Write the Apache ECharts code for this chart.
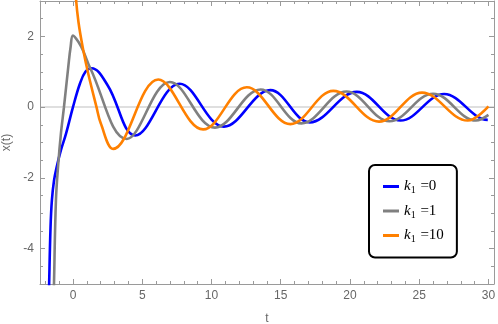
<!DOCTYPE html>
<html>
<head>
<meta charset="utf-8">
<script src="https://cdn.jsdelivr.net/npm/echarts@6/dist/echarts.min.js"></script>
<style>
html,body{margin:0;padding:0;background:#fff;}
#chart{width:498px;height:324px;}
</style>
</head>
<body>
<div id="chart"></div>
<script>
// t ticks / x(t) ticks
var xMajor = [0, 5, 10, 15, 20, 25, 30];
var xMinor = [-2, -1, 1, 2, 3, 4, 6, 7, 8, 9, 11, 12, 13, 14, 16, 17, 18, 19, 21, 22, 23, 24, 26, 27, 28, 29];
var yMajor = [-4, -2, 0, 2];
var yMinor = [-4.5, -3.5, -3, -2.5, -1.5, -1, -0.5, 0.5, 1, 1.5, 2.5];

var seriesNames = ['k1=0', 'k1=1', 'k1=10'];
var seriesColors = ['#0000ff', '#808080', '#ff8000'];

// k1 = 0 : start of the curve, then its peaks and troughs
var curveK0 = [
	[-1.8, -6.5], [-1.72, -5], [-1.62, -3.4], [-1.52, -2.62], [-1.37, -2.08], [-1.18, -1.7],
	[-0.88, -1.23], [-0.5, -0.75], [0, 0], [0.5, 0.66], [0.9, 1.0], [1.35, 1.1],
	[2.5, 0.62], [4.5, -0.8], [7.7, 0.66], [10.9, -0.55], [14.25, 0.48],
	[17.1, -0.43], [20.5, 0.43], [23.65, -0.38], [26.8, 0.37], [29.95, -0.36], [30, -0.36]
];
// k1 = 1
var curveK1 = [
	[-1.45, -6.5], [-1.37, -5], [-1.23, -2.64], [-1.06, -1.6], [-0.87, -0.75], [-0.65, 0],
	[-0.34, 1.13], [-0.17, 1.7], [0, 2.02], [0.4, 1.84], [0.75, 1.58], [1.25, 1.1],
	[3.88, -0.9], [7.0, 0.71], [10.25, -0.58], [13.55, 0.5], [16.5, -0.46],
	[19.75, 0.44], [22.85, -0.4], [26.0, 0.38], [29.1, -0.38], [30, -0.22]
];
// k1 = 10
var curveK10 = [
	[0.08, 5], [0.2, 3.2], [0.4, 2.4], [0.75, 1.6], [1.1, 0.95], [1.7, 0], [2.0, -0.45],
	[2.9, -1.18], [6.16, 0.78], [9.4, -0.63], [12.55, 0.56], [15.7, -0.48], [18.8, 0.46],
	[22.1, -0.41], [25.2, 0.41], [28.5, -0.38], [30, 0.02]
];

var tMin = -2.38, tMax = 30.4;
var yMin = -5, yMax = 3;
var frameColor = '#9a9a9a';
var labelColor = '#666';

function tickAxis(kind, pos, ticks, len, withLine, labels) {
	var ax = {
		type: 'value',
		position: pos,
		min: kind == 'x' ? tMin : yMin,
		max: kind == 'x' ? tMax : yMax,
		axisLine: { show: withLine, onZero: false, lineStyle: { color: frameColor, width: 1 } },
		axisTick: { show: true, inside: true, length: len, customValues: ticks, lineStyle: { color: frameColor } },
		axisLabel: { show: false },
		splitLine: { show: false }
	};
	if (labels) {
		ax.axisLabel = {
			show: true,
			customValues: labels,
			color: labelColor,
			fontSize: 12,
			fontFamily: 'Liberation Sans',
			margin: 6
		};
	}
	return ax;
}

var xAxes = [
	tickAxis('x', 'bottom', xMajor, 5, true, xMajor),
	tickAxis('x', 'bottom', xMinor, 3, false),
	tickAxis('x', 'top', xMajor, 5, true),
	tickAxis('x', 'top', xMinor, 3, false)
];
xAxes[0].name = 't';
xAxes[0].nameLocation = 'middle';
xAxes[0].nameGap = 29;
xAxes[0].nameMoveOverlap = false;
xAxes[0].nameTextStyle = { color: labelColor, fontSize: 12, fontFamily: 'Liberation Sans' };

var yAxes = [
	tickAxis('y', 'left', yMajor, 5, true, yMajor),
	tickAxis('y', 'left', yMinor, 3, false),
	tickAxis('y', 'right', yMajor, 5, true),
	tickAxis('y', 'right', yMinor, 3, false),
	{
		// only the line at x(t)=0
		type: 'value', position: 'left', min: yMin, max: yMax,
		axisLine: { show: false }, axisLabel: { show: false },
		axisTick: { show: false, customValues: [0] },
		splitLine: { show: true, lineStyle: { color: '#d4d4d4', width: 1.5 } }
	}
];
yAxes[0].name = 'x(t)';
yAxes[0].nameLocation = 'middle';
yAxes[0].nameGap = 27;
yAxes[0].nameMoveOverlap = false;
yAxes[0].nameTextStyle = { color: labelColor, fontSize: 12, fontFamily: 'Liberation Sans' };

var curves = [curveK0, curveK1, curveK10];
var series = [];
for (var i = 0; i < curves.length; i++) {
	series.push({
		name: seriesNames[i],
		type: 'line',
		data: curves[i],
		xAxisIndex: 0,
		yAxisIndex: 0,
		smooth: 0.38,
		smoothMonotone: 'none',
		symbol: 'none',
		clip: true,
		color: seriesColors[i],
		lineStyle: { color: seriesColors[i], width: 2.6 },
		z: 3 + i
	});
}

var chart = echarts.init(document.getElementById('chart'));
chart.setOption({
	animation: false,
	grid: { left: 40, right: 4, top: 1, bottom: 40, outerBoundsMode: 'none' },
	xAxis: xAxes,
	yAxis: yAxes,
	legend: {
		data: seriesNames,
		orient: 'vertical',
		left: 369,
		top: 165,
		padding: [14, 13, 13, 14],
		icon: 'rect',
		itemWidth: 16,
		itemHeight: 3,
		itemGap: 8,
		borderColor: '#000',
		borderWidth: 2,
		borderRadius: 6,
		backgroundColor: '#fff',
		formatter: function (name) {
			return '{k|k}{s|1}{v| =' + name.split('=')[1] + '}';
		},
		textStyle: {
			rich: {
				k: { fontFamily: 'Liberation Serif', fontStyle: 'italic', fontSize: 15, color: '#000', lineHeight: 18, verticalAlign: 'middle' },
				s: { fontFamily: 'Liberation Serif', fontSize: 10, color: '#000', lineHeight: 10, verticalAlign: 'bottom', padding: [0, 1, 0, 0] },
				v: { fontFamily: 'Liberation Serif', fontSize: 15, color: '#000', lineHeight: 18, verticalAlign: 'middle' }
			}
		}
	},
	series: series
});
</script>
</body>
</html>
